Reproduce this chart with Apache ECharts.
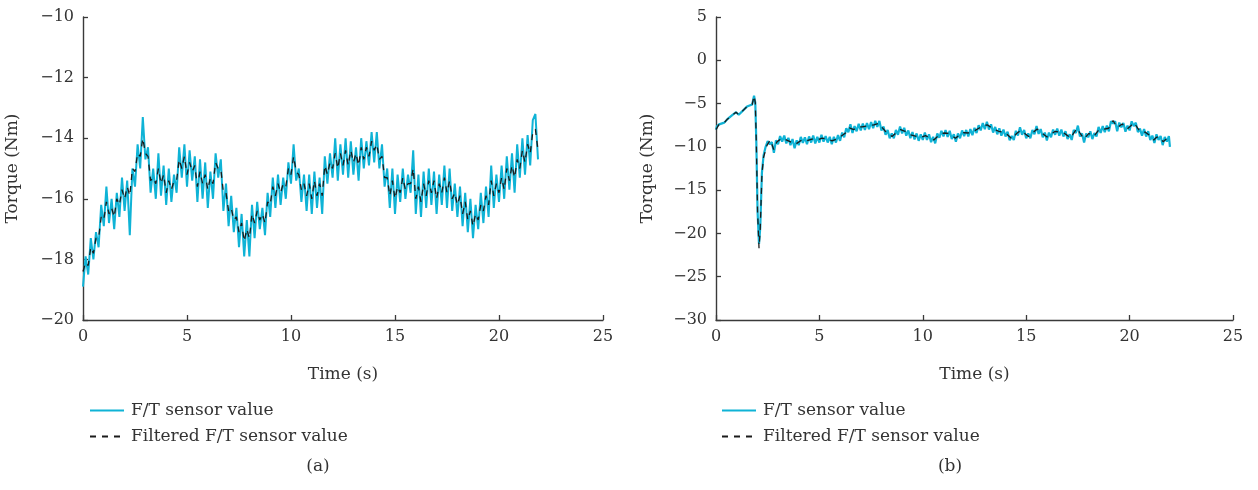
<!DOCTYPE html>
<html><head><meta charset="utf-8">
<script src="https://cdn.jsdelivr.net/npm/echarts@6/dist/echarts.min.js"></script>
<style>html,body{margin:0;padding:0;background:#fff}#c{width:1258px;height:490px}</style>
</head><body><div id="c"></div>
<script>
// ---------- data ----------
const xTicksMax = 25;
const stepA = 0.125; // sampling step (s) of panel (a)
// Panel (a): raw F/T sensor torque, one value every 0.125 s from 0 s
const sensorA = [-18.9,-17.9,-18.5,-17.3,-18.0,-17.1,-17.6,-16.2,-16.9,-15.6,
-16.8,-16.0,-17.0,-15.8,-16.6,-15.3,-16.4,-15.4,-17.2,-15.0,
-15.6,-14.2,-15.0,-13.3,-14.7,-14.3,-15.8,-15.0,-16.0,-14.5,
-15.9,-14.9,-16.2,-15.0,-16.1,-15.2,-15.8,-14.3,-15.3,-14.2,
-15.6,-14.4,-15.4,-14.6,-16.1,-14.7,-16.0,-14.8,-16.3,-15.1,
-16.0,-14.5,-15.3,-14.7,-16.4,-15.5,-16.9,-15.9,-17.1,-16.3,
-17.6,-16.5,-17.9,-16.7,-17.9,-16.2,-17.3,-16.1,-17.0,-16.3,
-17.2,-15.8,-16.6,-15.3,-16.3,-15.2,-16.2,-15.3,-16.0,-14.8,
-15.5,-14.2,-15.4,-15.0,-16.1,-15.2,-16.4,-15.2,-16.5,-15.1,
-16.3,-15.3,-16.5,-14.6,-15.5,-14.5,-15.3,-14.0,-15.4,-14.2,
-15.2,-14.0,-15.3,-14.1,-15.2,-14.3,-15.4,-14.0,-15.0,-14.1,
-14.9,-13.8,-14.8,-13.8,-15.0,-14.2,-15.6,-15.0,-16.3,-15.0,
-16.5,-15.2,-16.1,-15.0,-16.0,-15.2,-15.8,-14.4,-16.5,-15.2,
-16.6,-15.1,-16.3,-15.0,-16.2,-15.1,-16.5,-15.2,-16.2,-14.9,
-16.3,-15.0,-16.4,-15.5,-16.6,-15.6,-16.9,-15.8,-17.1,-16.0,
-17.3,-16.2,-17.0,-15.8,-16.8,-15.6,-16.6,-14.9,-16.3,-15.2,
-16.1,-14.9,-16.0,-14.6,-15.7,-14.5,-15.8,-14.2,-15.3,-14.0,
-15.2,-13.9,-14.9,-13.4,-13.2,-14.7];
// Panel (a): filtered torque, same sampling
const filteredA = [-18.4,-18.1,-18.2,-17.6,-17.8,-17.3,-17.3,-16.6,-16.7,-16.1,
-16.5,-16.3,-16.6,-16.0,-16.2,-15.7,-16.0,-15.6,-15.9,-15.0,
-15.1,-14.5,-14.6,-14.0,-14.5,-14.6,-15.4,-15.3,-15.5,-15.0,
-15.5,-15.2,-15.8,-15.4,-15.7,-15.4,-15.4,-14.7,-15.0,-14.6,
-15.2,-14.8,-15.1,-14.9,-15.6,-15.1,-15.5,-15.2,-15.7,-15.3,
-15.5,-14.8,-15.0,-15.0,-15.8,-15.8,-16.4,-16.3,-16.7,-16.6,
-17.1,-16.8,-17.4,-17.0,-17.3,-16.5,-16.8,-16.4,-16.7,-16.5,
-16.8,-16.1,-16.2,-15.6,-15.9,-15.5,-15.8,-15.5,-15.6,-15.0,
-15.2,-14.6,-15.1,-15.2,-15.7,-15.5,-15.9,-15.5,-16.0,-15.4,
-15.9,-15.5,-15.9,-14.9,-15.2,-14.8,-15.0,-14.5,-15.0,-14.5,
-14.9,-14.4,-14.9,-14.4,-14.8,-14.5,-14.9,-14.3,-14.7,-14.3,
-14.6,-14.1,-14.4,-14.2,-14.7,-14.6,-15.3,-15.3,-15.9,-15.4,
-16.0,-15.6,-15.8,-15.3,-15.7,-15.5,-15.5,-15.0,-16.0,-15.6,
-16.1,-15.5,-15.9,-15.4,-15.8,-15.4,-16.0,-15.5,-15.8,-15.3,
-15.8,-15.4,-16.0,-15.8,-16.2,-15.9,-16.5,-16.1,-16.7,-16.4,
-16.9,-16.5,-16.7,-16.2,-16.4,-15.9,-16.2,-15.4,-15.9,-15.5,
-15.8,-15.3,-15.7,-15.0,-15.4,-14.9,-15.3,-14.7,-15.0,-14.4,
-14.8,-14.2,-14.5,-13.8,-13.7,-14.4];

// Panel (b): raw sensor, [time, torque] up to 2.4 s
const sensorB_head = [[0,-8.0],[0.05,-7.6],[0.15,-7.4],[0.4,-7.2],[0.55,-6.8],[0.8,-6.3],[0.97,-6.0],[1.1,-6.3],[1.35,-5.7],[1.5,-5.35],[1.75,-5.1],[1.84,-4.1],[1.9,-4.9],[1.95,-9.5],[2.01,-17.5],[2.08,-21.2],[2.14,-19.3],[2.22,-13.0],[2.3,-11.0],[2.4,-10.0]];
// Panel (b): raw sensor from 2.5 s, one value every 0.1 s
const tailStartB = 2.5, stepB = 0.1;
const sensorB_tail = [-9.35,-9.7,-9.45,-10.7,-9.25,-9.7,-8.75,-9.4,-8.7,-9.6,
-8.95,-9.8,-9.1,-10.15,-9.25,-9.8,-8.85,-9.55,-8.9,-9.7,
-8.8,-9.5,-8.7,-9.6,-8.85,-9.5,-8.6,-9.4,-8.75,-9.5,
-8.85,-9.7,-8.85,-9.5,-8.65,-9.3,-8.35,-8.9,-7.85,-8.3,
-7.4,-8.4,-7.6,-8.2,-7.35,-8.1,-7.3,-8.05,-7.25,-7.95,
-7.15,-7.85,-7.0,-7.7,-7.0,-8.1,-7.65,-8.6,-8.05,-9.0,
-8.45,-9.0,-8.05,-8.6,-7.65,-8.45,-7.8,-8.7,-8.1,-9.0,
-8.3,-9.15,-8.45,-9.3,-8.55,-9.2,-8.35,-9.2,-8.55,-9.45,
-8.85,-9.6,-8.45,-8.95,-8.15,-8.8,-8.05,-8.85,-8.15,-9.1,
-8.55,-9.4,-8.45,-9.0,-8.1,-8.75,-8.05,-8.8,-7.95,-8.65,
-7.8,-8.4,-7.5,-8.1,-7.25,-7.95,-7.1,-8.0,-7.4,-8.35,
-7.7,-8.55,-7.85,-8.7,-8.0,-8.8,-8.25,-9.25,-8.75,-9.2,
-8.15,-8.7,-7.75,-8.6,-8.05,-9.0,-8.45,-9.0,-8.05,-8.55,
-7.6,-8.5,-7.95,-8.9,-8.35,-9.25,-8.35,-8.9,-8.0,-8.6,
-7.9,-8.7,-8.0,-8.8,-8.2,-9.1,-8.55,-9.2,-8.05,-8.4,
-7.55,-8.8,-8.45,-9.5,-8.45,-8.9,-8.2,-9.1,-8.4,-8.8,
-7.7,-8.4,-7.6,-8.3,-7.55,-8.2,-7.05,-7.3,-7.05,-8.2,
-7.2,-7.75,-7.25,-8.25,-7.55,-8.1,-7.05,-7.6,-7.2,-8.3,
-7.9,-8.7,-7.95,-8.8,-8.2,-9.2,-8.7,-9.55,-8.55,-9.2,
-8.75,-9.8,-8.85,-9.4,-8.75];
const sensorB_end = [[21.95,-10.0]];
// Panel (b): filtered torque, [time, torque]
const filteredB = [[0,-8.0],[0.15,-7.4],[0.4,-7.2],[0.55,-6.8],[0.8,-6.3],[0.97,-6.0],[1.1,-6.3],[1.35,-5.7],[1.5,-5.35],[1.75,-5.1],[1.84,-4.1],[1.9,-4.9],[1.95,-9.5],[2.01,-17.5],[2.08,-21.7],[2.14,-19.5],[2.22,-13.2],[2.3,-11.2],[2.47,-9.8],[2.63,-9.2],[2.79,-10.3],[2.95,-9.4],[3.2,-9.0],[3.5,-9.3],[3.84,-9.7],[4.16,-9.2],[4.4,-9.3],[4.64,-9.1],[4.9,-9.2],[5.13,-9.0],[5.4,-9.1],[5.61,-9.3],[5.93,-9.0],[6.26,-8.4],[6.45,-7.8],[6.66,-8.0],[6.85,-7.7],[7.06,-7.7],[7.3,-7.6],[7.63,-7.45],[7.87,-7.3],[8.19,-8.2],[8.51,-8.8],[8.7,-8.4],[8.92,-8.0],[9.15,-8.2],[9.4,-8.6],[9.72,-8.8],[9.9,-8.9],[10.13,-8.7],[10.3,-8.9],[10.53,-9.2],[10.85,-8.5],[11.05,-8.4],[11.25,-8.45],[11.58,-9.0],[11.8,-8.6],[11.98,-8.35],[12.2,-8.4],[12.46,-8.2],[12.71,-7.85],[12.9,-7.6],[13.11,-7.45],[13.43,-7.95],[13.67,-8.2],[14.0,-8.4],[14.32,-9.1],[14.52,-8.5],[14.72,-8.1],[14.9,-8.4],[15.12,-8.8],[15.3,-8.4],[15.53,-7.95],[15.75,-8.4],[16.01,-8.85],[16.2,-8.5],[16.41,-8.2],[16.6,-8.3],[16.82,-8.4],[17.0,-8.7],[17.14,-9.0],[17.3,-8.4],[17.46,-7.85],[17.6,-8.4],[17.79,-9.1],[18.03,-8.45],[18.27,-8.8],[18.51,-8.05],[18.75,-7.95],[18.99,-7.85],[19.2,-6.95],[19.4,-7.8],[19.64,-7.35],[19.88,-7.95],[20.05,-7.6],[20.2,-7.2],[20.35,-7.7],[20.53,-8.3],[20.75,-8.3],[20.93,-8.6],[21.17,-9.2],[21.3,-8.9],[21.41,-8.8],[21.62,-9.4],[21.82,-9.0],[21.95,-9.1]];

const yRangeA = {min:-20, max:-10, interval:2};
const yRangeB = {min:-30, max:5, interval:5};
const names = ['F/T sensor value', 'Filtered F/T sensor value'];
const xTitle = 'Time (s)', yTitle = 'Torque (Nm)';
const captions = ['(a)', '(b)'];

// ---------- styling ----------
const FONT = '"DejaVu Serif", "Liberation Serif", serif';
const TXT = '#333333', AX = '#3a3a3a';
const CYAN = '#0fb3d6', DARK = '#1b1b1b';
const minus = v => String(v).replace('-', '\u2212');

function xAxis(gi){
  return {type:'value', gridIndex:gi, min:0, max:xTicksMax, interval:5,
    name:xTitle, nameLocation:'middle', nameGap:46,
    nameTextStyle:{fontFamily:FONT, fontSize:17, color:TXT},
    axisLine:{show:true, onZero:false, lineStyle:{color:AX, width:1.4}},
    axisTick:{show:true, inside:true, length:5, lineStyle:{color:AX, width:1.3}},
    axisLabel:{fontFamily:FONT, fontSize:16, color:TXT, margin:9, formatter:minus},
    splitLine:{show:false}};
}
function yAxis(gi, r){
  return {type:'value', gridIndex:gi, min:r.min, max:r.max, interval:r.interval,
    name:yTitle, nameLocation:'middle', nameGap:gi===0?62:60,
    nameTextStyle:{fontFamily:FONT, fontSize:17, color:TXT},
    axisLine:{show:true, onZero:false, lineStyle:{color:AX, width:1.4}},
    axisTick:{show:true, inside:true, length:5, lineStyle:{color:AX, width:1.3}},
    axisLabel:{fontFamily:FONT, fontSize:16, color:TXT, margin:9, formatter:minus},
    splitLine:{show:false}};
}
function legend(left){
  return {left:left, top:397, orient:'vertical', itemWidth:34, itemHeight:14, itemGap:9,
    itemStyle:{opacity:0},
    textStyle:{fontFamily:FONT, fontSize:17, color:TXT, padding:[0,0,0,2]},
    data:names};
}

const dataA1 = sensorA.map((v,i)=>[i*stepA, v]);
const dataA2 = filteredA.map((v,i)=>[i*stepA, v]);
const dataB1 = sensorB_head.concat(sensorB_tail.map((v,i)=>[tailStartB + i*stepB, v]), sensorB_end);

const chart = echarts.init(document.getElementById('c'), null, {renderer:'canvas'});
chart.setOption({
  animation:false,
  backgroundColor:'#ffffff',
  grid:[{left:83, top:17, width:520, height:303},
        {left:716, top:17, width:517, height:303}],
  xAxis:[xAxis(0), xAxis(1)],
  yAxis:[yAxis(0, yRangeA), yAxis(1, yRangeB)],
  legend:[legend(84), legend(716)],
  series:[
    {name:names[0], type:'line', xAxisIndex:0, yAxisIndex:0, data:dataA1, symbol:'none', lineStyle:{color:CYAN, width:2}, itemStyle:{color:CYAN}},
    {name:names[1], type:'line', xAxisIndex:0, yAxisIndex:0, data:dataA2, symbol:'none', lineStyle:{color:DARK, width:1.3, type:[6,6]}, itemStyle:{color:DARK}},
    {name:names[0], type:'line', xAxisIndex:1, yAxisIndex:1, data:dataB1, symbol:'none', lineStyle:{color:CYAN, width:2.2}, itemStyle:{color:CYAN}},
    {name:names[1], type:'line', xAxisIndex:1, yAxisIndex:1, data:filteredB, symbol:'none', lineStyle:{color:DARK, width:1.3, type:[6,6]}, itemStyle:{color:DARK}}
  ],
  graphic:[
    {type:'text', x:318, y:467, style:{text:captions[0], fontFamily:FONT, fontSize:17, fill:TXT, textAlign:'center', textVerticalAlign:'middle'}},
    {type:'text', x:950, y:467, style:{text:captions[1], fontFamily:FONT, fontSize:17, fill:TXT, textAlign:'center', textVerticalAlign:'middle'}}
  ]
});
</script>
</body></html>
